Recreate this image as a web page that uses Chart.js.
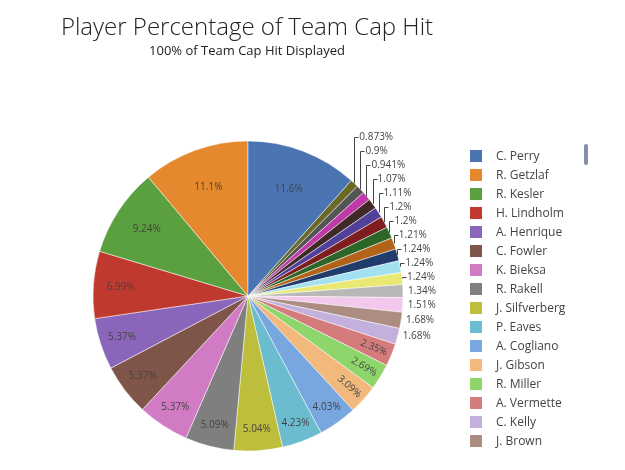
<!DOCTYPE html>
<html>
<head>
<meta charset="utf-8">
<script src="https://cdn.jsdelivr.net/npm/chart.js@4.4.1/dist/chart.umd.min.js"></script>
<style>
  html, body { margin: 0; padding: 0; background: #fff; }
  #wrap { position: relative; width: 625px; height: 470px; overflow: hidden; font-family: "Open Sans", sans-serif; }
  #wrap canvas { position: absolute; left: 0; top: 0; }
  .ttl { position: absolute; left: 0; width: 494px; text-align: center; line-height: 1; color: #222; white-space: nowrap; }
  #title { top: 14px; font-size: 24px; font-weight: 300; }
  #subtitle { top: 44px; font-size: 13px; color: #222; }
  #scroll { position: absolute; left: 584px; top: 144px; width: 4px; height: 21px; border-radius: 2px; background: #8390a8; }
</style>
</head>
<body>
<div id="wrap">
  <canvas id="pie" width="625" height="470"></canvas>
  <div id="title" class="ttl">Player Percentage of Team Cap Hit</div>
  <div id="subtitle" class="ttl">100% of Team Cap Hit Displayed</div>
  <div id="scroll"></div>
</div>
<script>
/* legend order (Plotly draws them counter-clockwise) */
const players = [
  'C. Perry', 'R. Getzlaf', 'R. Kesler', 'H. Lindholm', 'A. Henrique', 'C. Fowler',
  'K. Bieksa', 'R. Rakell', 'J. Silfverberg', 'P. Eaves', 'A. Cogliano', 'J. Gibson',
  'R. Miller', 'A. Vermette', 'C. Kelly', 'J. Brown', 'J. Manson', 'S. Vatanen',
  'N. Ritchie', 'B. Montour', 'D. Grant', 'K. Holzer', 'O. Kase', 'J. Boll',
  'L. Shaw', 'M. Pettersson', 'J. Megna', 'K. Kossila', 'A. Welinski'
];
const capPct = [
  11.6, 11.1, 9.24, 6.99, 5.37, 5.37, 5.37, 5.09, 5.04, 4.23, 4.03, 3.09,
  2.69, 2.35, 1.68, 1.68, 1.51, 1.34, 1.24, 1.24, 1.24, 1.21, 1.2, 1.2,
  1.11, 1.07, 0.941, 0.9, 0.873
];
const sliceColors = [
  '#4a74b2', '#e6892e', '#5ba03f', '#c0392e', '#8a66ba', '#7e5548',
  '#d07bc3', '#7f7f7f', '#bdbe3c', '#6cbccf', '#78a7e0', '#f2b87c',
  '#8ed66b', '#d47b7b', '#c4b0dd', '#ad8c82', '#f2c9ec', '#b8b8b8',
  '#e9e872', '#a3e1f0', '#1f3c6b', '#b3621a', '#2c6727', '#7e1d1d',
  '#50409a', '#3f2a27', '#bf3aa6', '#555555', '#6a6a26'
];
const legendShown = 16;   // rows visible in the scrolling legend

/* Chart.js goes clockwise, so feed the slices reversed */
const order  = players.map((_, i) => i).reverse();
const labels = order.map(i => players[i]);
const data   = order.map(i => capPct[i]);
const colors = order.map(i => sliceColors[i]);
const total  = capPct.reduce((s, v) => s + v, 0);
const rotation = capPct[0] / total * 360;

/* layout numbers */
const PIE_CX = 248, PIE_R = 155, LEGEND_LEFT = 463, LEG_PAD = 7;
const PREFIX = '\u2002\u2009';
const mctx = document.createElement('canvas').getContext('2d');
mctx.font = '12px "Open Sans"';
const maxText = Math.max(...players.slice(0, legendShown).map(p => mctx.measureText(PREFIX + p).width));
const legendW = LEG_PAD + 12 + 6 + maxText + 10;
const padRight = 625 - LEGEND_LEFT - legendW;
const padLeft = 2 * PIE_CX - LEGEND_LEFT;

/* percent labels: inside for big slices, stacked outside for small ones */
const sliceLabels = {
  id: 'sliceLabels',
  afterDatasetsDraw(chart) {
    const ctx = chart.ctx;
    const meta = chart.getDatasetMeta(0);
    const vals = chart.data.datasets[0].data;
    ctx.save();
    ctx.font = '10px "Open Sans"';
    ctx.fillStyle = '#444';
    ctx.strokeStyle = '#444';
    ctx.lineWidth = 1;
    ctx.textBaseline = 'middle';
    const outside = [];
    meta.data.forEach((arc, i) => {
      const p = arc.getProps(['x', 'y', 'startAngle', 'endAngle', 'outerRadius'], true);
      const mid = (p.startAngle + p.endAngle) / 2;
      const v = vals[i];
      const txt = v + '%';
      if (v >= 2) {
        const r = p.outerRadius * Math.min(0.877, 0.955 - 0.0187 * v);
        ctx.save();
        ctx.translate(p.x + r * Math.cos(mid), p.y + r * Math.sin(mid));
        if (v < 3.5) {
          let a = mid;
          if (Math.cos(a) < 0) a += Math.PI;
          ctx.rotate(a);
        }
        ctx.textAlign = 'center';
        ctx.fillText(txt, 0, 0);
        ctx.restore();
      } else {
        outside.push({ txt, ax: p.x + p.outerRadius * Math.cos(mid), ay: p.y + p.outerRadius * Math.sin(mid) });
      }
    });
    let prev = Infinity;
    for (let k = outside.length - 1; k >= 0; k--) {
      outside[k].ly = Math.min(outside[k].ay, prev - 14);
      prev = outside[k].ly;
    }
    ctx.textAlign = 'left';
    outside.forEach(o => {
      if (o.ay - o.ly > 1) {
        const lx = Math.round(o.ax) + 0.5, ly = Math.round(o.ly) + 0.5;
        ctx.beginPath();
        ctx.moveTo(lx, o.ay);
        ctx.lineTo(lx, ly);
        ctx.lineTo(lx + 4, ly);
        ctx.stroke();
      }
      ctx.fillText(o.txt, o.ax + 5, o.ly);
    });
    ctx.restore();
  }
};

new Chart(document.getElementById('pie'), {
  type: 'pie',
  data: {
    labels,
    datasets: [{ data, backgroundColor: colors, borderColor: '#ffffff', borderWidth: 0.5 }]
  },
  options: {
    responsive: false,
    animation: false,
    radius: PIE_R,
    rotation,
    layout: { padding: { left: padLeft, right: padRight, top: 122, bottom: 0 } },
    plugins: {
      legend: {
        position: 'right',
        align: 'center',
        reverse: true,
        // tiny empty title just nudges the rows down a couple of px
        title: { display: true, text: ' ', font: { size: 1 }, padding: 2 },
        labels: {
          boxWidth: 12, boxHeight: 12, padding: LEG_PAD, color: '#444',
          font: { family: 'Open Sans', size: 12 },
          filter: item => item.index >= players.length - legendShown,
          generateLabels: chart => Chart.overrides.pie.plugins.legend.labels.generateLabels(chart)
            .map(it => Object.assign(it, { text: PREFIX + it.text, lineWidth: 0 }))
        }
      },
      tooltip: { enabled: false }
    }
  },
  plugins: [sliceLabels]
});
</script>
</body>
</html>
